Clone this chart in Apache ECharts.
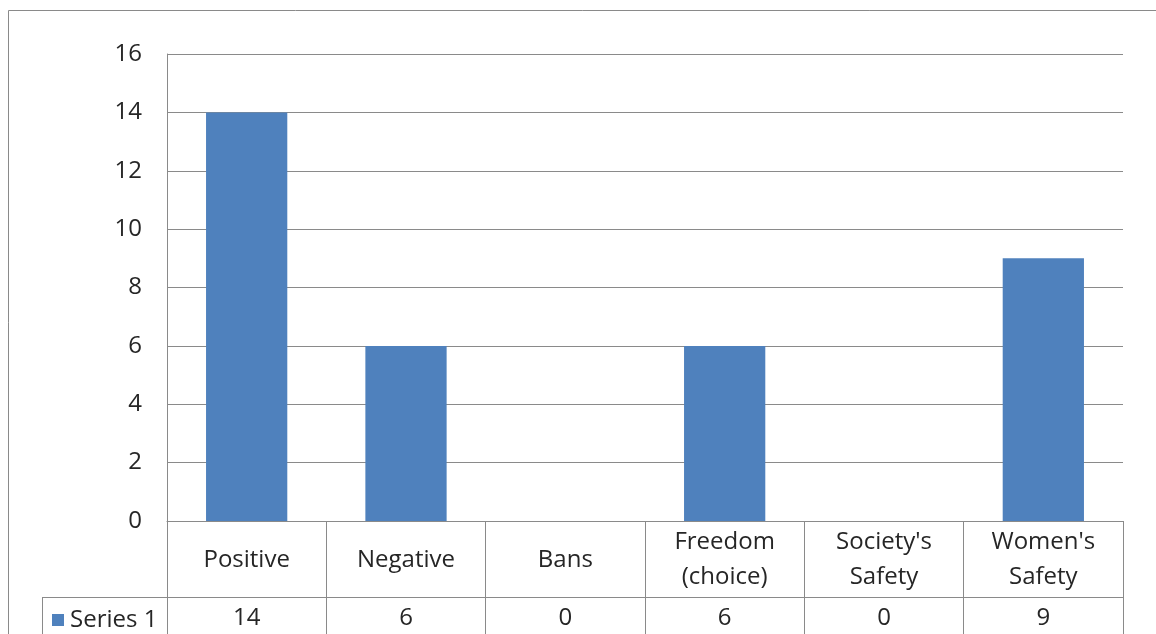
<!DOCTYPE html>
<html>
<head>
<meta charset="utf-8">
<script src="https://cdn.jsdelivr.net/npm/echarts@6/dist/echarts.min.js"></script>
<style>
html,body{margin:0;padding:0;background:#fff;}
#chart{width:1156px;height:634px;}
</style>
</head>
<body>
<div id="chart"></div>
<script>
var categories = ['Positive', 'Negative', 'Bans', 'Freedom\n(choice)', "Society's\nSafety", "Women's\nSafety"];
var seriesName = 'Series 1';
var values = [14, 6, 0, 6, 0, 9];
var yTicks = [0, 2, 4, 6, 8, 10, 12, 14, 16];

var FONT = '"Open Sans", sans-serif';
var TXT = '#262626';
var LINE = '#8a8a8a';

var chart = echarts.init(document.getElementById('chart'), null, {renderer: 'canvas'});
chart.setOption({
  animation: false,
  backgroundColor: '#fff',
  grid: {left: 167, right: 33, top: 54, bottom: 113, containLabel: false},
  legend: {
    data: [seriesName],
    left: 47, top: 603,
    icon: 'rect', itemWidth: 12, itemHeight: 12, itemGap: 0,
    textStyle: {fontFamily: FONT, fontSize: 24, color: TXT, padding: [0, 0, 0, 1]},
    selectedMode: false
  },
  xAxis: [{
    type: 'category', data: categories, position: 'bottom',
    axisLine: {show: true, lineStyle: {color: LINE, width: 1}},
    axisTick: {show: true, length: 76, interval: 0, lineStyle: {color: LINE}},
    axisLabel: {interval: 0, margin: 39, verticalAlign: 'middle', fontFamily: FONT, fontSize: 24, lineHeight: 35, color: TXT, align: 'center'},
    splitLine: {show: false}
  }, {
    type: 'category', data: categories, position: 'bottom', offset: 76,
    axisLine: {show: true, lineStyle: {color: LINE, width: 1}},
    axisTick: {show: true, length: 40, interval: 0, lineStyle: {color: LINE}},
    axisLabel: {interval: 0, margin: 21, verticalAlign: 'middle', fontFamily: FONT, fontSize: 24, color: TXT,
      formatter: function (v, i) { return String(values[i]); }},
    splitLine: {show: false}
  }],
  yAxis: {
    type: 'value', min: yTicks[0], max: yTicks[yTicks.length - 1], interval: 2,
    axisLine: {show: true, lineStyle: {color: LINE}},
    axisTick: {show: false},
    axisLabel: {margin: 25, fontFamily: FONT, fontSize: 24, color: TXT},
    splitLine: {show: true, lineStyle: {color: LINE, width: 1}}
  },
  series: [{
    name: seriesName, type: 'bar', data: values, barWidth: '51%',
    itemStyle: {color: '#4F81BD'}, xAxisIndex: 0
  }],
  graphic: [
    {type: 'rect', shape: {x: 8.5, y: 10.5, width: 1300, height: 800}, style: {fill: 'none', stroke: LINE, lineWidth: 1}, silent: true},
    {type: 'line', shape: {x1: 42, y1: 597.5, x2: 167, y2: 597.5}, style: {stroke: LINE, lineWidth: 1}, silent: true},
    {type: 'line', shape: {x1: 42.5, y1: 597, x2: 42.5, y2: 640}, style: {stroke: LINE, lineWidth: 1}, silent: true}
  ]
});
</script>
</body>
</html>
